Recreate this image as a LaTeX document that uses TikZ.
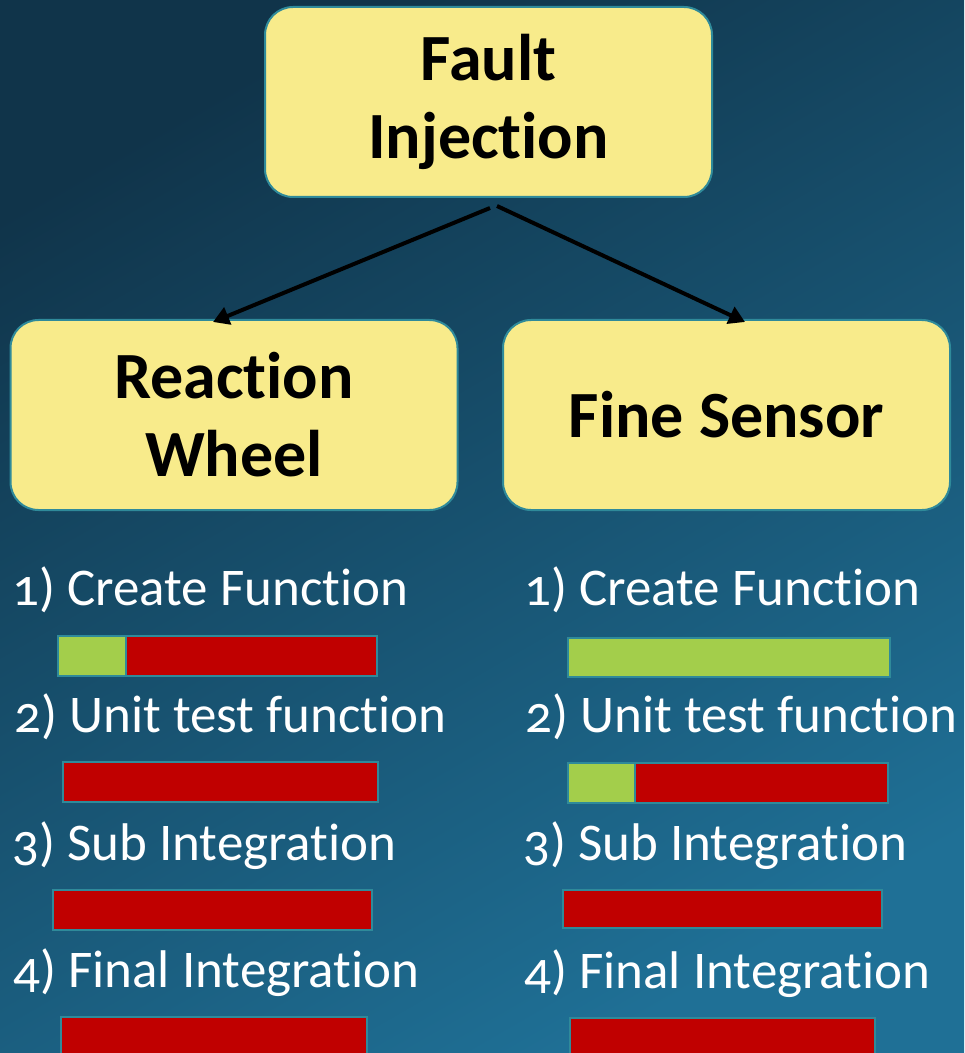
\documentclass[tikz,border=0pt]{standalone}
\usepackage{fontspec}
\setmainfont{Carlito}[Numbers=OldStyle, Ligatures=NoCommon]
\usetikzlibrary{arrows.meta}

\definecolor{bgdark}{HTML}{10344A}
\definecolor{bglight}{HTML}{1F7096}
\definecolor{boxfill}{HTML}{F8EB8B}
\definecolor{boxline}{HTML}{2F8A9A}
\definecolor{donegreen}{HTML}{A3CE4B}
\definecolor{todored}{HTML}{C00000}

\tikzset{
    topic/.style={draw=boxline, line width=1pt, fill=boxfill, rounded corners=14pt,
        minimum width=223.5pt, minimum height=95pt, align=center,
        font=\fontsize{33}{39}\selectfont\bfseries},
    stage/.style={anchor=base west, text=white, inner sep=0pt,
        font=\fontsize{26.5}{30}\selectfont},
    link/.style={-{Triangle[length=8pt,width=9pt]}, line width=2pt}
}

% bar: x1, y1, x2, y2, end of green part
\newcommand{\progbar}[5]{%
    \fill[donegreen] (#1,#2) rectangle (#5,#4);
    \fill[todored] (#5,#2) rectangle (#3,#4);
    \draw[boxline, line width=1pt] (#5,#2) -- (#5,#4);
    \draw[boxline, line width=1pt] (#1,#2) rectangle (#3,#4);
}

\begin{document}
\begin{tikzpicture}[x=0.5pt, y=-0.5pt]
    \useasboundingbox (0,0) rectangle (964,1053);
    \clip (0,0) rectangle (964,1053);
    \shade[shading=axis, top color=bgdark, bottom color=bglight, shading angle=30]
        (0,0) rectangle (964,1053);

    \node[topic] (fault) at (488.5,102) {Fault\\Injection};
    \node[topic] (wheel) at (234,415) {Reaction\\Wheel};
    \node[topic] (sensor) at (726.5,415) {Fine Sensor};

    \draw[link] ([shift={(1.5,10)}]fault.south) -- ([shift={(-21,3)}]wheel.north);
    \draw[link] ([shift={(8.5,8)}]fault.south) -- ([shift={(18.5,3)}]sensor.north);

    % reaction wheel
    \node[stage] (w1) at (12,605) {1) Create Function};
    \node[stage] (w2) at (14,732) {2) Unit test function};
    \node[stage] (w3) at (12,860) {3) Sub Integration};
    \node[stage] (w4) at (13,987) {4) Final Integration};
    \progbar{58}{636}{377}{676}{126}
    \progbar{63}{762}{378}{802}{63}
    \progbar{53}{890}{372}{930}{53}
    \progbar{61}{1017}{367}{1070}{61}

    % fine sensor
    \node[stage] (s1) at (524,605) {1) Create Function};
    \node[stage] (s2) at (525,732) {2) Unit test function};
    \node[stage] (s3) at (523,860) {3) Sub Integration};
    \node[stage] (s4) at (524,988) {4) Final Integration};
    \progbar{568}{638}{890}{677}{890}
    \progbar{568}{763}{888}{803}{635}
    \progbar{563}{890}{882}{928}{563}
    \progbar{570}{1018}{875}{1070}{570}
\end{tikzpicture}
\end{document}
